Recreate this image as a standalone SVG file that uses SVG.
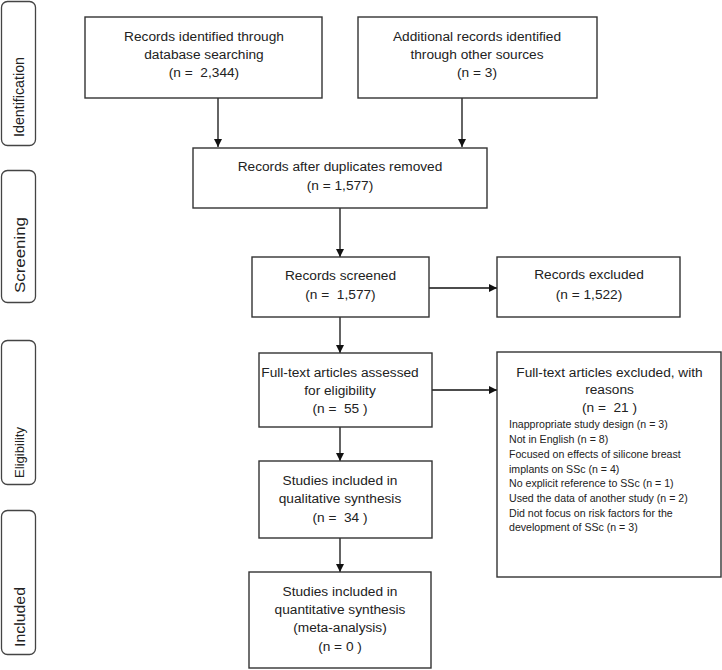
<svg xmlns="http://www.w3.org/2000/svg" width="722" height="670" viewBox="0 0 722 670">
<defs>
<marker id="arr" viewBox="0 0 10 10" refX="10" refY="5" markerWidth="8" markerHeight="8" markerUnits="userSpaceOnUse" orient="auto">
<path d="M0,0 L10,5 L0,10 z" fill="#111"/>
</marker>
<style>
.box{fill:#fff;stroke:#333;stroke-width:1.4}
.side{fill:#fff;stroke:#444;stroke-width:1.3}
.t{font-family:"Liberation Sans",Arial,sans-serif;font-size:13.7px;fill:#222;text-anchor:middle;white-space:pre}
.s{font-family:"Liberation Sans",Arial,sans-serif;font-size:10.6px;fill:#222}
.lab{font-family:"Liberation Sans",Arial,sans-serif;fill:#222;text-anchor:middle}
.c{stroke:#111;stroke-width:1.3;fill:none;marker-end:url(#arr)}
</style>
</defs>
<rect width="722" height="670" fill="#fff"/>
<g id="phase-identification"><rect class="side" x="1.5" y="1.5" width="34" height="144" rx="6"/><text class="lab" font-size="15" transform="translate(24,97) rotate(-90)" textLength="80" lengthAdjust="spacingAndGlyphs">Identification</text></g>
<g id="phase-screening"><rect class="side" x="1.5" y="170.5" width="34" height="132" rx="6"/><text class="lab" font-size="15" transform="translate(24.5,255) rotate(-90)" textLength="76" lengthAdjust="spacingAndGlyphs">Screening</text></g>
<g id="phase-eligibility"><rect class="side" x="1.5" y="340.5" width="34" height="144" rx="6"/><text class="lab" font-size="12" transform="translate(24,452.5) rotate(-90)" textLength="51" lengthAdjust="spacingAndGlyphs">Eligibility</text></g>
<g id="phase-included"><rect class="side" x="1.5" y="510.5" width="34" height="144" rx="6"/><text class="lab" font-size="15" transform="translate(24.5,617) rotate(-90)" textLength="60" lengthAdjust="spacingAndGlyphs">Included</text></g>

<g id="connectors">
<line class="c" x1="218" y1="98" x2="218" y2="147"/>
<line class="c" x1="462" y1="98" x2="462" y2="147"/>
<line class="c" x1="340" y1="208" x2="340" y2="257"/>
<line class="c" x1="340" y1="317" x2="340" y2="353"/>
<line class="c" x1="340" y1="427" x2="340" y2="461"/>
<line class="c" x1="340" y1="538" x2="340" y2="572"/>
<line class="c" x1="429" y1="288" x2="497" y2="288"/>
<line class="c" x1="432" y1="390" x2="497" y2="390"/>
</g>

<g id="n1"><rect class="box" x="85" y="17" width="237" height="81"/>
<text class="t" x="204" y="41">Records identified through</text>
<text class="t" x="204" y="59">database searching</text>
<text class="t" x="204" y="77">(n =  2,344)</text></g>

<g id="n2"><rect class="box" x="358" y="17" width="239" height="81"/>
<text class="t" x="477" y="41">Additional records identified</text>
<text class="t" x="477" y="59">through other sources</text>
<text class="t" x="477" y="77">(n = 3)</text></g>

<g id="n3"><rect class="box" x="193" y="148" width="294" height="60"/>
<text class="t" x="340" y="171">Records after duplicates removed</text>
<text class="t" x="340" y="190">(n = 1,577)</text></g>

<g id="n4"><rect class="box" x="252" y="257" width="177" height="60"/>
<text class="t" x="340.5" y="280">Records screened</text>
<text class="t" x="340.5" y="299">(n =  1,577)</text></g>

<g id="n5"><rect class="box" x="497" y="257" width="183" height="60"/>
<text class="t" x="589" y="279">Records excluded</text>
<text class="t" x="589" y="299">(n = 1,522)</text></g>

<g id="n6"><rect class="box" x="259" y="353" width="173" height="74"/>
<text class="t" x="340" y="377">Full-text articles assessed</text>
<text class="t" x="340" y="395">for eligibility</text>
<text class="t" x="340" y="413">(n =  55 )</text></g>

<g id="n7"><rect class="box" x="497" y="352" width="224" height="225"/>
<text class="t" x="609.5" y="377">Full-text articles excluded, with</text>
<text class="t" x="609.5" y="394">reasons</text>
<text class="t" x="609.5" y="412">(n =  21 )</text>
<text class="s" x="509" y="428">Inappropriate study design (n = 3)</text>
<text class="s" x="509" y="443">Not in English (n = 8)</text>
<text class="s" x="509" y="458">Focused on effects of silicone breast</text>
<text class="s" x="509" y="473">implants on SSc (n = 4)</text>
<text class="s" x="509" y="487">No explicit reference to SSc (n = 1)</text>
<text class="s" x="509" y="502">Used the data of another study (n = 2)</text>
<text class="s" x="509" y="517">Did not focus on risk factors for the</text>
<text class="s" x="509" y="531">development of SSc (n = 3)</text></g>

<g id="n8"><rect class="box" x="259" y="461" width="173" height="77"/>
<text class="t" x="340" y="485">Studies included in</text>
<text class="t" x="340" y="503">qualitative synthesis</text>
<text class="t" x="340" y="522">(n =  34 )</text></g>

<g id="n9"><rect class="box" x="249" y="572" width="182" height="96"/>
<text class="t" x="340" y="596">Studies included in</text>
<text class="t" x="340" y="614">quantitative synthesis</text>
<text class="t" x="340" y="632">(meta-analysis)</text>
<text class="t" x="340" y="651">(n = 0 )</text></g>
</svg>
